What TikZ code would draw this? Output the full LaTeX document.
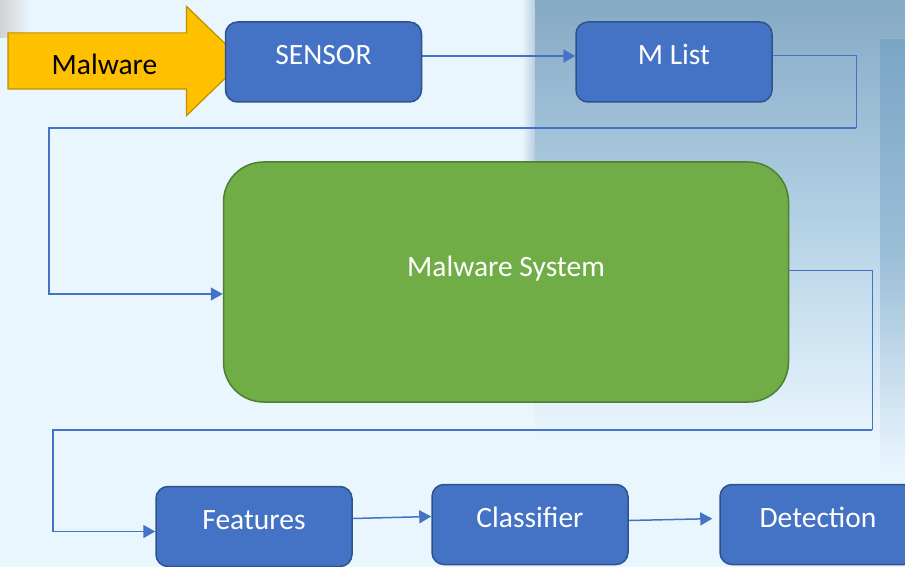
\documentclass[tikz,border=0pt]{standalone}
\usepackage{fontspec}
\setmainfont{Carlito}
\usepackage{tikz}
\usetikzlibrary{positioning, shapes.arrows, arrows.meta}

\definecolor{bgblue}{HTML}{EAF6FE}
\definecolor{skyblue}{HTML}{86A9C4}
\definecolor{midsky}{HTML}{B3D1E5}
\definecolor{towerblue}{HTML}{7AA6C6}
\definecolor{boxblue}{HTML}{4472C4}
\definecolor{boxedge}{HTML}{2F528F}
\definecolor{sysgreen}{HTML}{70AD47}
\definecolor{sysedge}{HTML}{507E32}
\definecolor{arrowgold}{HTML}{FFC000}
\definecolor{goldedge}{HTML}{BF9000}

\begin{document}
\begin{tikzpicture}[
      x=1pt, y=-1pt,
      every node/.style={font=\fontsize{29.5}{34}\selectfont},
      box/.style={draw=boxedge, fill=boxblue, line width=1.5pt,
                  rounded corners=12pt, text=white,
                  minimum width=196pt, minimum height=80pt,
                  text height=20pt, text depth=14pt},
      sysbox/.style={draw=sysedge, fill=sysgreen, line width=1.5pt,
                  rounded corners=40pt, text=white,
                  minimum width=565pt, minimum height=240pt,
                  text height=20pt, text depth=32pt},
      bigarrow/.style={single arrow, draw=goldedge, fill=arrowgold,
                  line width=1.2pt, minimum height=235pt, minimum width=108pt,
                  single arrow head extend=26.5pt, single arrow tip angle=88,
                  inner sep=0pt, text height=41.5pt, text depth=13.5pt},
      arr/.style={-{Triangle[length=12pt,width=13pt]}, draw=boxblue, line width=1.5pt},
      link/.style={draw=boxblue, line width=1pt},
    ]
    %% Background
    \useasboundingbox (0,0) rectangle (905,567);
    \clip (0,0) rectangle (905,567);
    \fill[bgblue] (0,0) rectangle (905,567);
    \shade[left color=bgblue, right color=skyblue!60!bgblue] (522,0) rectangle (537,300);
    \shade[top color=skyblue, bottom color=bgblue, middle color=midsky]
      (535,0) rectangle (905,440);
    \shade[top color=towerblue, bottom color=bgblue, middle color=towerblue!70!bgblue]
      (880,40) rectangle (905,470);
    \shade[left color=gray!35, right color=bgblue] (0,0) rectangle (30,38);

    %% Top row
    \node[bigarrow] (malware) at (111, 61) {Malware\kern13pt};
    \node[box] (sensor) at (323.5, 62) {SENSOR};
    \node[box] (mlist)  at (674, 62) {M List};

    %% Central system
    \node[sysbox] (system) at (506, 282) {Malware System};

    %% Bottom row
    \node[box] (features)   at (254, 526.5) {Features};
    \node[box] (classifier) at (530, 524.5) {Classifier};
    \node[box] (detection)  at (818, 524.5) {Detection};

    %% Corner points of the routed links
    \coordinate (turnA) at (856, 128);
    \coordinate (turnB) at (49, 128);
    \coordinate (turnC) at (872, 430);
    \coordinate (turnD) at (53, 430);

    %% Connectors
    \draw[arr] ([yshift=6pt]sensor.east) -- ([yshift=6pt]mlist.west);
    \draw[link] ([yshift=6pt]mlist.east) -| (turnA);
    \draw[arr] (turnA) -- (turnB) |- ([yshift=-12pt]system.west);
    \draw[link] ([yshift=12pt]system.east) -| (turnC);
    \draw[arr] (turnC) -- (turnD) |- ([yshift=-5pt]features.west);
    \draw[arr] ([yshift=8pt]features.east) -- ([yshift=8pt]classifier.west);
    \draw[arr, shorten >=7pt] ([yshift=4pt]classifier.east) -- ([yshift=6pt]detection.west);
  \end{tikzpicture}
\end{document}
